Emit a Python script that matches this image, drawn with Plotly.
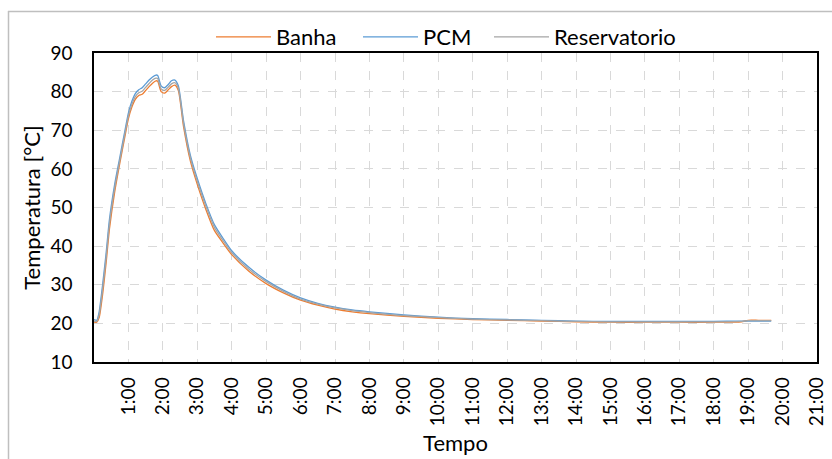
import plotly.graph_objects as go

# time in hours
tempo_h = [0, 0.08, 0.15, 0.25, 0.35, 0.45, 0.6, 0.75, 0.9, 1.0, 1.1, 1.2, 1.3, 1.4, 1.5, 1.6, 1.7, 1.8, 1.85,
           1.95, 2.05, 2.15, 2.25, 2.35, 2.45, 2.6, 2.8, 3.0, 3.25, 3.5, 3.75, 4.0, 4.5, 5.0, 5.5, 6.0, 6.5, 7.0,
           7.5, 8.0, 9.0, 10.0, 11.0, 12.0, 13.0, 14.0, 15.0, 16.0, 17.0, 18.0, 18.8, 19.0, 19.3, 19.67]

pcm = [21.0, 20.8, 23.0, 30.0, 38.0, 47.0, 56.0, 63.0, 70.0, 74.5, 77.5, 79.5, 80.5, 81.0, 82.0, 83.0, 83.8, 84.3, 84.2,
       81.5, 81.0, 81.8, 82.8, 83.0, 81.5, 72.5, 63.5, 57.5, 51.0, 45.5, 42.0, 38.8, 34.5, 31.2, 28.6, 26.6, 25.2, 24.2,
       23.5, 23.0, 22.2, 21.6, 21.2, 21.0, 20.8, 20.6, 20.5, 20.5, 20.5, 20.5, 20.6, 20.6, 20.6, 20.6]

banha = [20.3, 20.3, 21.5, 27.5, 35.5, 44.5, 54.0, 61.5, 68.5, 73.0, 76.0, 78.0, 79.0, 79.3, 80.3, 81.3, 82.2, 82.8, 82.7,
         80.0, 79.6, 80.4, 81.3, 81.7, 80.3, 71.0, 62.0, 56.0, 49.5, 44.0, 40.8, 37.8, 33.5, 30.3, 27.9, 26.0, 24.7, 23.7,
         23.0, 22.5, 21.8, 21.3, 21.0, 20.8, 20.6, 20.4, 20.3, 20.3, 20.3, 20.3, 20.4, 20.8, 20.8, 20.8]

reservatorio = [20.6, 20.5, 22.2, 28.8, 36.8, 45.8, 55.0, 62.2, 69.2, 73.7, 76.7, 78.7, 79.7, 80.1, 81.1, 82.1, 83.0, 83.5, 83.4,
                80.7, 80.3, 81.1, 82.0, 82.3, 80.9, 71.8, 62.8, 56.8, 50.3, 44.8, 41.4, 38.3, 34.0, 30.8, 28.3, 26.3, 25.0, 24.0,
                23.3, 22.8, 22.0, 21.5, 21.1, 20.9, 20.7, 20.5, 20.4, 20.4, 20.4, 20.4, 20.5, 20.7, 20.7, 20.7]

x_ticks = list(range(1, 22))
x_labels = [f"{h}:00" for h in x_ticks]
y_ticks = list(range(10, 91, 10))

FONT = "Lato"
TICK_FS = 19
TITLE_FS = 22
LEG_FS = 22

W, H = 832, 459
L, T, R, B = 94, 53, 15, 97
pw, ph = W - L - R, H - T - B

def px(xv):  # page pixel -> paper x
    return (xv - L) / pw

def py(yv):  # page pixel -> paper y
    return (H - B - yv) / ph

fig = go.Figure()
fig.add_trace(go.Scatter(x=tempo_h, y=banha, name="Banha", mode="lines", legend="legend",
                         line=dict(color="#ED7D31", width=1.3, shape="spline", smoothing=0.6)))
fig.add_trace(go.Scatter(x=tempo_h, y=pcm, name="PCM", mode="lines", legend="legend2",
                         line=dict(color="#5B9BD5", width=1.3, shape="spline", smoothing=0.6)))
fig.add_trace(go.Scatter(x=tempo_h, y=reservatorio, name="Reservatorio", mode="lines", legend="legend3",
                         line=dict(color="#A5A5A5", width=1.3, shape="spline", smoothing=0.6)))

def leg(xpix):
    return dict(orientation="h", x=px(xpix), xanchor="left", y=py(37), yanchor="middle",
                font=dict(family=FONT, size=LEG_FS, color="#000000"), itemwidth=55,
                bgcolor="rgba(0,0,0,0)", borderwidth=0)

fig.update_layout(
    width=W, height=H,
    margin=dict(l=L, r=R, t=T, b=B, autoexpand=False),
    paper_bgcolor="white", plot_bgcolor="white",
    font=dict(family=FONT, size=TICK_FS, color="#000000"),
    showlegend=True,
    legend=leg(211), legend2=leg(358), legend3=leg(489),
    xaxis=dict(range=[0, 21], tickmode="array", tickvals=x_ticks, ticktext=x_labels,
               tickangle=-90, showgrid=True, gridcolor="#D9D9D9", griddash="dash", gridwidth=1,
               showline=True, mirror=True, linecolor="#000000", linewidth=1.5, zeroline=False,
               ticks="", ticklabelstandoff=6, automargin=False,
               title=dict(text="Tempo", font=dict(family=FONT, size=TITLE_FS), standoff=10)),
    yaxis=dict(range=[10, 90], tickmode="array", tickvals=y_ticks,
               showgrid=True, gridcolor="#D9D9D9", griddash="dash", gridwidth=1,
               showline=True, mirror=True, linecolor="#000000", linewidth=1.5, zeroline=False,
               ticks="", ticklabelstandoff=16, automargin=False,
               title=dict(text="Temperatura [°C]", font=dict(family=FONT, size=TITLE_FS), standoff=4)),
    shapes=[
        dict(type="line", xref="paper", yref="paper", x0=px(8.5), x1=px(8.5), y0=py(11), y1=py(470),
             line=dict(color="#BFBFBF", width=1.5)),
        dict(type="line", xref="paper", yref="paper", x0=px(8), x1=px(840), y0=py(11.5), y1=py(11.5),
             line=dict(color="#BFBFBF", width=1.5)),
    ],
)

fig.write_html("out.html", config={"displayModeBar": False},
               post_script="document.body.style.margin='0';document.body.style.overflow='hidden';"
                           "document.documentElement.style.overflow='hidden';")
